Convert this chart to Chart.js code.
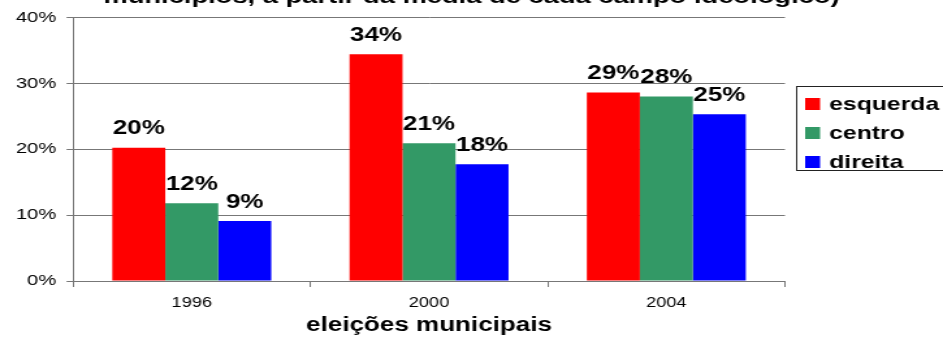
<!DOCTYPE html>
<html>
<head>
<meta charset="utf-8">
<script src="https://cdn.jsdelivr.net/npm/chart.js@4/dist/chart.umd.min.js"></script>
<style>
  html, body { margin: 0; padding: 0; background: #fff; overflow: hidden; }
  /* the reference is stretched sideways, so draw narrow and stretch */
  #wrap { width: 725px; height: 339px; transform: scaleX(1.3007); transform-origin: 0 0; }
</style>
</head>
<body>
<div id="wrap"><canvas id="myChart"></canvas></div>
<script>
const categories = ["1996", "2000", "2004"];
const esquerda = [20.2, 34.4, 28.6];
const centro = [11.8, 20.9, 28.0];
const direita = [9.1, 17.7, 25.3];
const yTicks = [0, 10, 20, 30, 40];
const titleText = "municípios, a partir da média de cada campo ideológico)";
const xTitle = "eleições municipais";

const FONT = "'Liberation Sans', Arial, sans-serif";
const GRID = "#777777";

const chartCtx = document.getElementById("myChart").getContext("2d");

const topTitle = {
  id: "topTitle",
  afterDraw: (chart) => {
    const ctx = chart.ctx;
    ctx.save();
    ctx.font = `bold 21px ${FONT}`;
    ctx.fillStyle = "#000";
    ctx.textAlign = "center";
    ctx.textBaseline = "alphabetic";
    ctx.fillText(titleText, chart.width / 2, 3);
    ctx.restore();
  },
};

const barLabels = {
  id: "barLabels",
  afterDatasetsDraw: (chart) => {
    const ctx = chart.ctx;
    ctx.save();
    ctx.font = `bold 20px ${FONT}`;
    ctx.fillStyle = "#000";
    ctx.textAlign = "center";
    ctx.textBaseline = "alphabetic";
    chart.data.datasets.forEach((ds, i) => {
      chart.getDatasetMeta(i).data.forEach((bar, j) => {
        ctx.fillText(`${Math.round(ds.data[j])}%`, bar.x, bar.y - 13.5);
      });
    });
    ctx.restore();
  },
};

const boxLegend = {
  id: "boxLegend",
  afterDraw: (chart) => {
    const ctx = chart.ctx;
    const left = 612.5;
    ctx.save();
    ctx.strokeStyle = "#222";
    ctx.lineWidth = 1;
    ctx.strokeRect(left, 86.5, 140, 84);
    ctx.font = `bold 19px ${FONT}`;
    ctx.textBaseline = "middle";
    ctx.textAlign = "left";
    const rows = [104, 133, 162];
    chart.data.datasets.forEach((ds, i) => {
      ctx.fillStyle = ds.backgroundColor;
      ctx.fillRect(left + 6.5, rows[i] - 6, 11.5, 12);
      ctx.fillStyle = "#000";
      ctx.fillText(ds.label, left + 25, rows[i] + 1);
    });
    ctx.restore();
  },
};

new Chart(chartCtx, {
  type: "bar",
  data: {
    labels: categories,
    datasets: [
      { label: "esquerda", data: esquerda, backgroundColor: "#FF0000" },
      { label: "centro", data: centro, backgroundColor: "#339966" },
      { label: "direita", data: direita, backgroundColor: "#0000FF" },
    ],
  },
  options: {
    responsive: true,
    maintainAspectRatio: false,
    animation: false,
    categoryPercentage: 0.67,
    barPercentage: 1,
    layout: { padding: { top: 17, right: 121.5, bottom: 0, left: 0 } },
    plugins: {
      legend: { display: false },
      tooltip: { enabled: false },
    },
    scales: {
      x: {
        offset: true,
        afterFit: (axis) => { axis.height = 58; },
        grid: {
          offset: true,
          drawOnChartArea: false,
          drawTicks: true,
          tickLength: 6,
          color: GRID,
        },
        border: { color: GRID },
        ticks: {
          color: "#000",
          padding: 8,
          maxRotation: 0,
          font: { family: FONT, size: 14 },
        },
        title: {
          display: true,
          text: xTitle,
          color: "#000",
          padding: { top: 0, bottom: 2 },
          font: { family: FONT, size: 20, weight: "bold" },
        },
      },
      y: {
        min: 0,
        max: 40,
        afterFit: (axis) => { axis.width = 56.2; },
        afterBuildTicks: (axis) => {
          axis.ticks = yTicks.map((v) => ({ value: v }));
        },
        grid: { color: GRID, tickLength: 5 },
        border: { color: GRID },
        ticks: {
          color: "#000",
          padding: 8,
          font: { family: FONT, size: 15.5 },
          callback: (v) => `${v}%`,
        },
      },
    },
  },
  plugins: [topTitle, barLabels, boxLegend],
});
</script>
</body>
</html>
